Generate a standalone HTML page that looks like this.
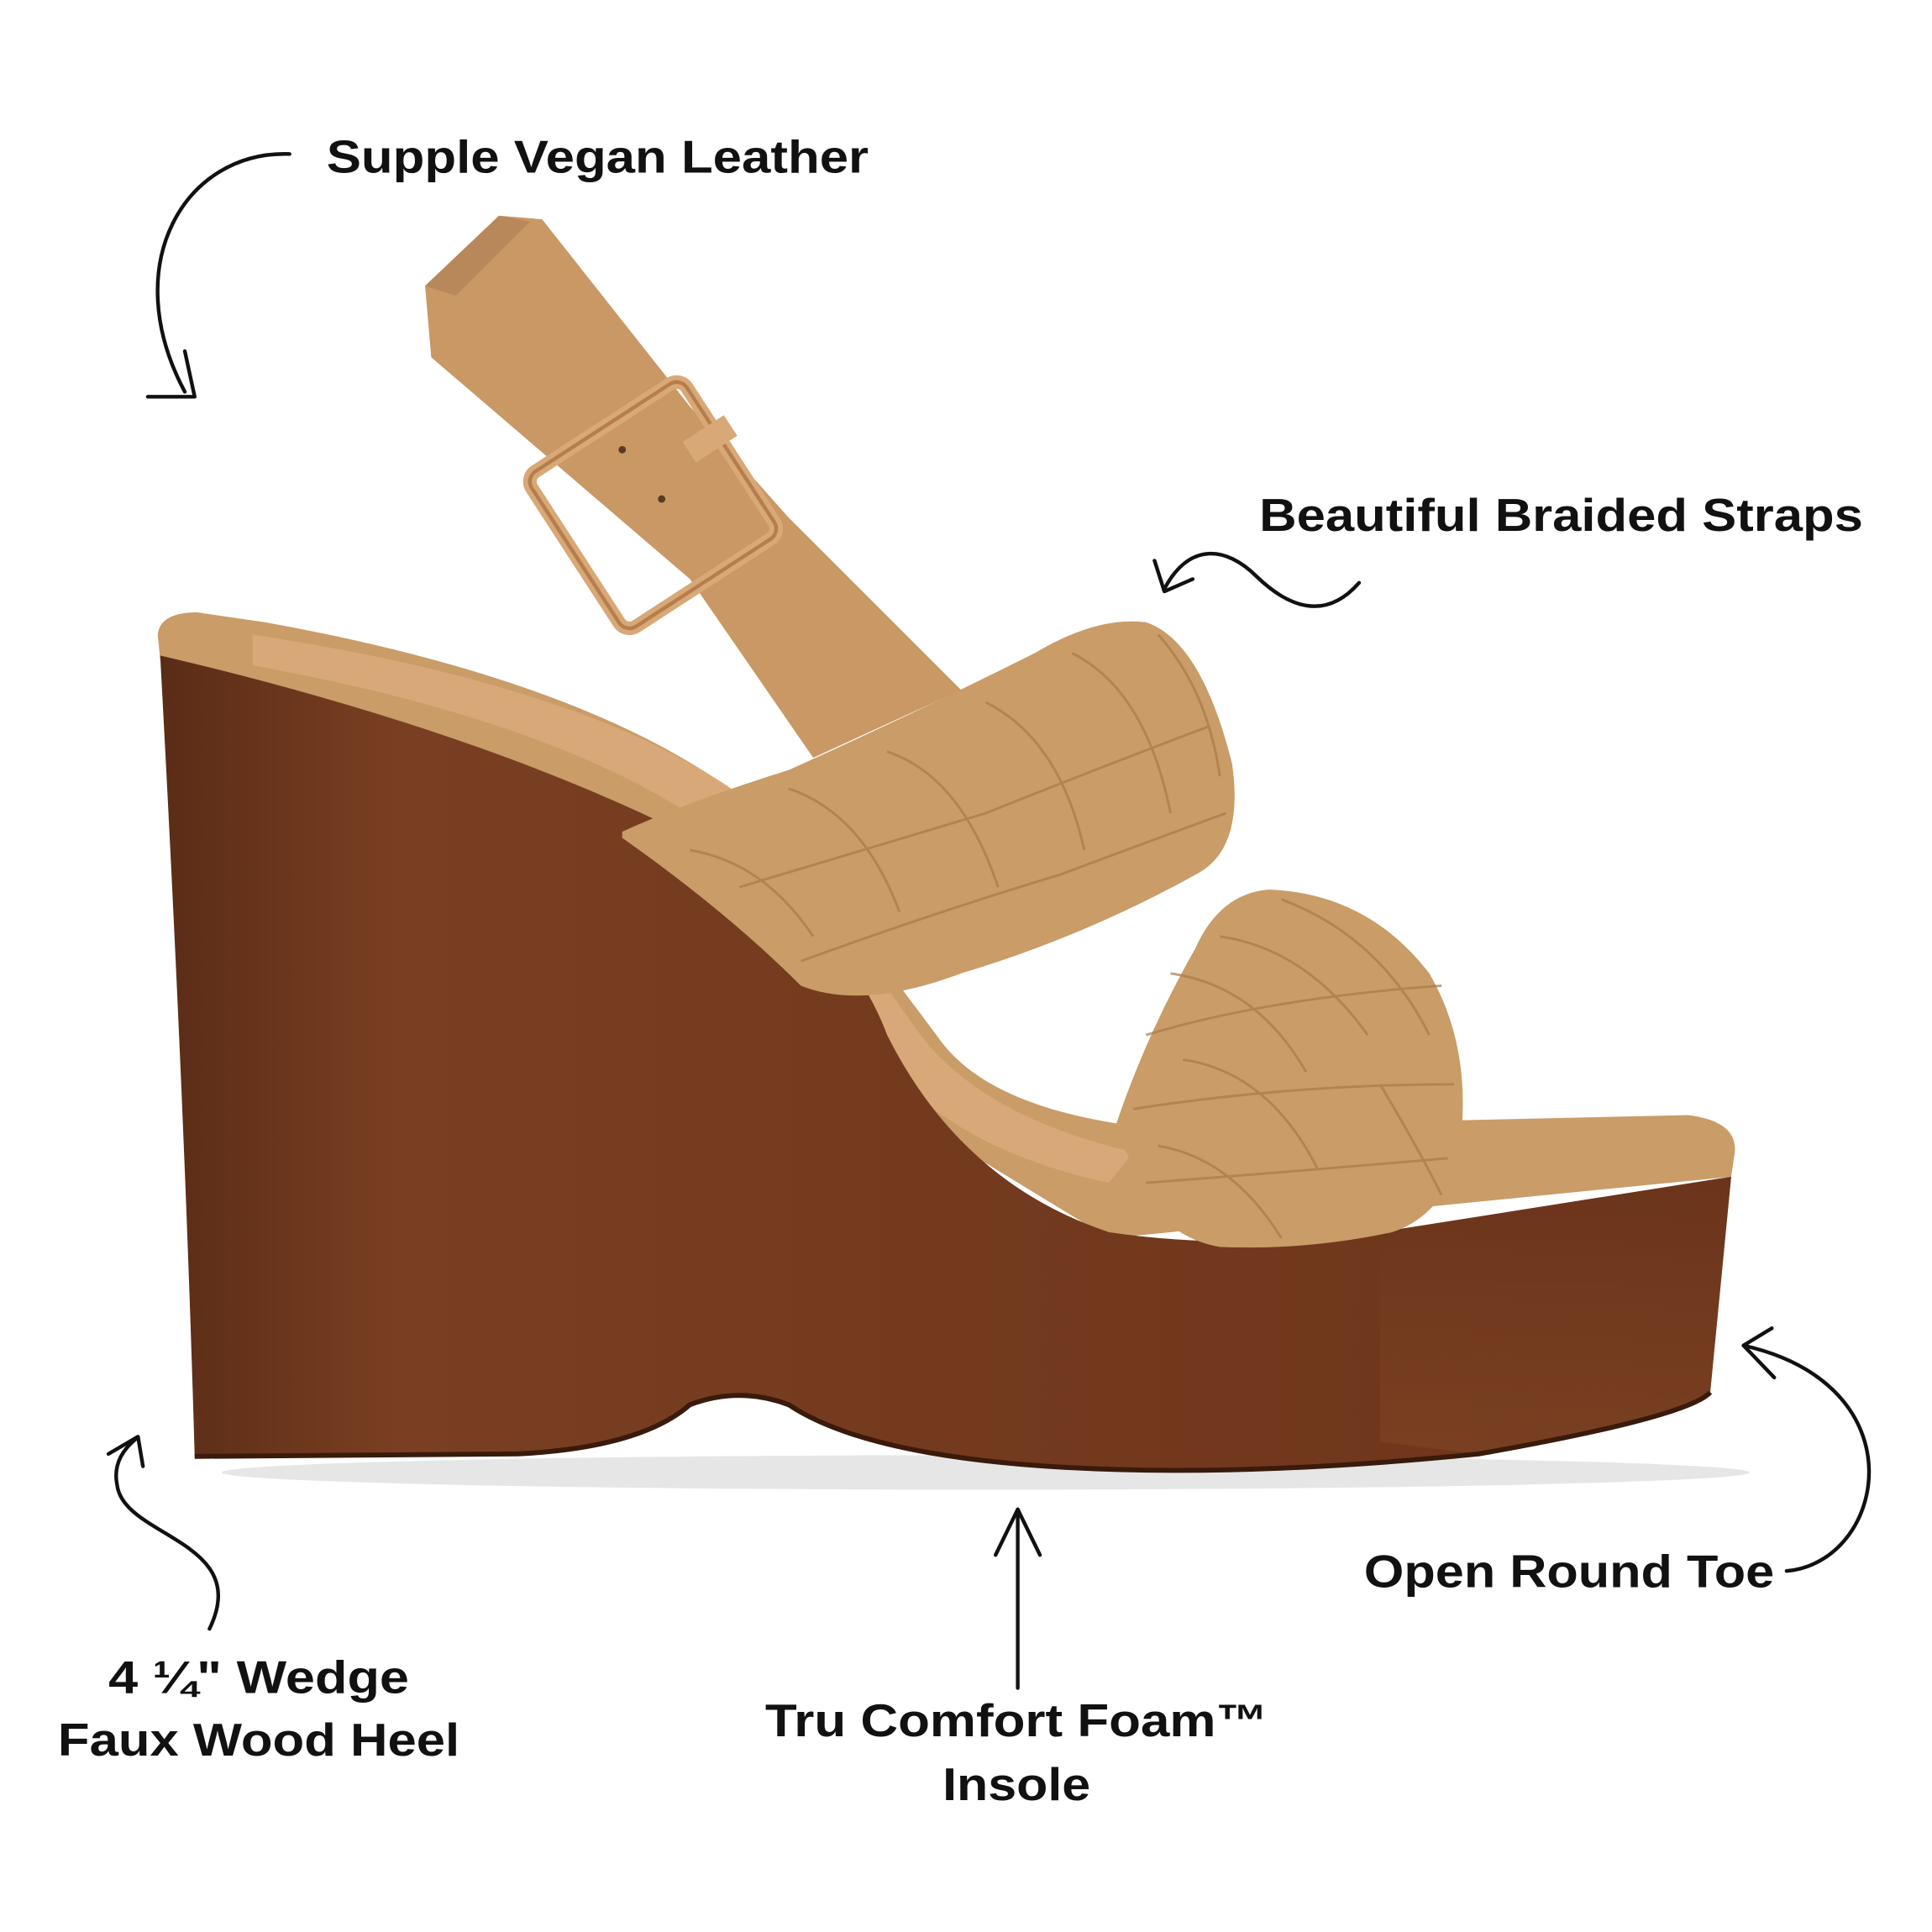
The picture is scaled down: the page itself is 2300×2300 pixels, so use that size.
<!DOCTYPE html>
<html><head><meta charset="utf-8"><style>
html,body{margin:0;padding:0;background:#fff;}
svg{display:block;}
text{font-family:"Liberation Sans",sans-serif;font-weight:bold;fill:#111;}
</style></head><body>
<svg width="2300" height="2300" viewBox="0 0 1568 1568" xmlns="http://www.w3.org/2000/svg">
<defs>
<linearGradient id="wood" x1="0" y1="0" x2="1" y2="0">
<stop offset="0" stop-color="#5a2c16"/><stop offset="0.15" stop-color="#7a3f22"/>
<stop offset="0.5" stop-color="#733a1e"/><stop offset="1" stop-color="#6e351b"/></linearGradient>
<linearGradient id="woodv" x1="0" y1="0" x2="0" y2="1">
<stop offset="0" stop-color="#6a341b"/><stop offset="1" stop-color="#7d4324"/></linearGradient>
</defs>
<rect width="1568" height="1568" fill="#fff"/>
<!-- shadow -->
<ellipse cx="800" cy="1195" rx="620" ry="14" fill="#e6e6e6"/>
<!-- insole rim -->
<path d="M128,515 Q130,497 160,497 L215,505 Q520,560 640,680 L760,840 Q800,900 930,915 L1370,905 Q1410,910 1408,935 L1405,955 L900,1005 L130,535 Z" fill="#c99c68"/>
<path d="M205,515 Q500,560 620,660 L740,830 Q790,905 920,935 L900,960 Q760,930 700,840 L600,690 Q480,590 205,540 Z" fill="#d8a878"/>
<!-- wedge -->
<path d="M130,532 Q420,600 600,700 Q690,760 720,840 Q780,960 900,1000 Q1000,1015 1120,1000 L1405,955 L1388,1130 Q1370,1150 1200,1180 Q1000,1200 850,1190 Q700,1180 640,1140 Q600,1125 560,1140 Q520,1175 420,1180 L158,1182 Q150,900 130,532 Z" fill="url(#wood)"/>
<path d="M1120,1000 L1405,955 L1388,1130 Q1370,1150 1200,1180 L1120,1170 Z" fill="url(#woodv)" opacity="0.7"/>
<path d="M158,1182 L420,1180 Q520,1175 560,1140 Q600,1125 640,1140 Q700,1180 850,1190 Q1000,1200 1200,1180 Q1370,1150 1388,1130" fill="none" stroke="#3a1a0b" stroke-width="4"/>
<!-- back strap -->
<path d="M345,232 L405,175 L440,178 L560,330 L640,420 L780,560 L660,615 L560,470 L350,290 Z" fill="#c99864"/>
<path d="M345,232 L405,175 L430,180 L370,240 Z" fill="#b8875a"/>
<!-- buckle -->
<g transform="rotate(-33 530 410)">
<rect x="455" y="335" width="150" height="150" rx="10" fill="none" stroke="#d9a877" stroke-width="11"/>
<rect x="455" y="335" width="150" height="150" rx="10" fill="none" stroke="#b67d4d" stroke-width="3"/>
<rect x="578" y="380" width="40" height="20" fill="#d9a877"/>
</g>
<circle cx="505" cy="365" r="3" fill="#5a3a20"/><circle cx="537" cy="405" r="3" fill="#5a3a20"/>
<!-- braided strap 1 -->
<path d="M505,675 Q560,650 640,625 Q740,580 840,530 Q890,500 930,505 Q975,520 1000,620 Q1010,690 970,710 Q880,760 780,790 Q700,820 650,800 Q590,740 505,680 Z" fill="#c99c68"/>
<!-- braided strap 2 -->
<path d="M905,915 Q930,840 970,770 Q990,725 1030,722 Q1110,725 1160,790 Q1195,850 1185,930 Q1175,985 1130,1000 Q1060,1015 990,1012 Q950,1005 930,970 Z" fill="#c99c68"/>
<g fill="none" stroke="#a87a48" stroke-width="2" opacity="0.7">
<path d="M560,690 Q620,700 660,760 M640,640 Q700,660 730,740 M720,610 Q780,630 810,720 M800,570 Q860,600 880,690 M870,530 Q930,560 950,660 M940,515 Q980,560 990,630"/>
<path d="M950,790 Q1020,800 1060,870 M990,760 Q1060,770 1110,840 M960,860 Q1030,870 1070,950 M1040,730 Q1120,760 1160,840 M940,930 Q1000,940 1040,1005 M1120,880 Q1150,930 1170,970"/>
<path d="M600,720 Q700,690 800,660 Q900,620 980,590 M650,780 Q760,740 860,710 Q940,680 995,660 M930,840 Q1030,810 1170,800 M920,900 Q1050,880 1180,880 M930,960 Q1060,950 1175,940"/>
</g>
<!-- arrows -->
<g fill="none" stroke="#111" stroke-width="3" stroke-linecap="round" stroke-linejoin="round">
<path d="M235,125 C150,122 95,215 150,318"/>
<path d="M120,322 L158,322 L150,285"/>
<path d="M1103,473 C1075,505 1045,492 1020,468 C995,443 965,440 945,478"/>
<path d="M937,455 L945,480 L968,470"/>
<path d="M1450,1275 C1530,1268 1560,1125 1415,1092"/>
<path d="M1438,1078 L1415,1092 L1440,1118"/>
<path d="M170,1322 C205,1250 100,1248 95,1205 C92,1190 98,1178 110,1168"/>
<path d="M88,1180 L112,1166 L116,1190"/>
<path d="M826,1370 L826,1225"/>
<path d="M808,1262 L826,1225 L844,1262"/>
</g>
<!-- labels -->
<text x="265" y="140" font-size="37" textLength="440" lengthAdjust="spacingAndGlyphs">Supple Vegan Leather</text>
<text x="1022" y="431" font-size="37" textLength="490" lengthAdjust="spacingAndGlyphs">Beautiful Braided Straps</text>
<text x="1107" y="1288" font-size="37" textLength="333" lengthAdjust="spacingAndGlyphs">Open Round Toe</text>
<text x="88" y="1374" font-size="37" textLength="244" lengthAdjust="spacingAndGlyphs">4 ¼" Wedge</text>
<text x="47" y="1425" font-size="37" textLength="326" lengthAdjust="spacingAndGlyphs">Faux Wood Heel</text>
<text x="621" y="1409" font-size="37" textLength="408" lengthAdjust="spacingAndGlyphs">Tru Comfort Foam™</text>
<text x="765" y="1461" font-size="37" textLength="120" lengthAdjust="spacingAndGlyphs">Insole</text>
</svg>
</body></html>
